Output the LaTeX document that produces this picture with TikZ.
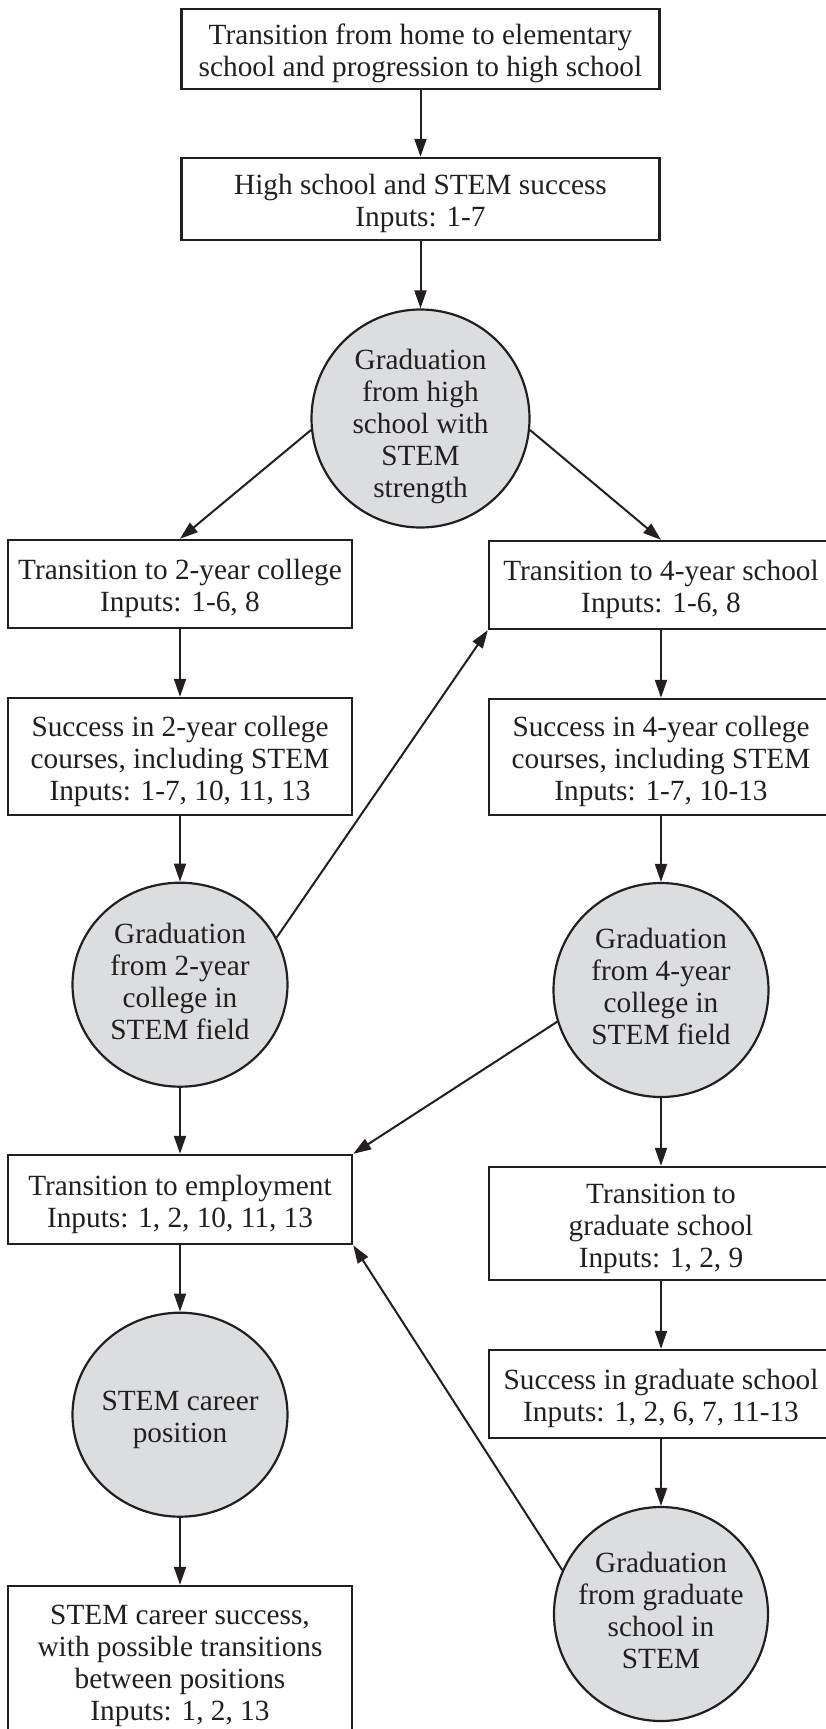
\documentclass[tikz,border=0pt]{standalone}
\usepackage{fontspec}
\setmainfont{Liberation Serif}
\usetikzlibrary{shapes.geometric,arrows.meta}
\definecolor{circfill}{RGB}{220,221,223}
\definecolor{ink}{RGB}{35,31,32}
\newcommand\diagfont{\fontsize{29.3}{32}\selectfont}
\newcommand\lowtxt[2]{\raisebox{-#1}[\height][\depth]{\begin{tabular}{@{}c@{}}#2\end{tabular}}}
\begin{document}
\begin{tikzpicture}[x=1pt,y=-1pt,
  boxn/.style={draw=ink, line width=2.4pt, rectangle, align=center, font=\diagfont, text=ink, inner sep=0pt},
  circn/.style={draw=ink, line width=2.2pt, ellipse, fill=circfill, align=center, font=\diagfont, text=ink, inner sep=-10pt},
  arr/.style={draw=ink, line width=2pt, -{Triangle[length=18pt,width=12pt]}}]
\path[fill=white, use as bounding box] (0,0) rectangle (825,1729);
% top column
\node[boxn, minimum width=478pt, minimum height=80pt] (b1) at (420.5,49) {\lowtxt{5.5pt}{Transition from home to elementary\\school and progression to high school}};
\node[boxn, minimum width=478pt, minimum height=82pt] (b2) at (420.5,199) {\lowtxt{5.5pt}{High school and STEM success\\Inputs: 1-7}};
\node[circn, minimum width=218pt, minimum height=218pt] (c1) at (420.5,418.5) {\lowtxt{9pt}{Graduation\\from high\\school with\\STEM\\strength}};
% left column
\node[boxn, minimum width=344pt, minimum height=88pt] (two) at (180,584) {\lowtxt{5.5pt}{Transition to 2-year college\\Inputs: 1-6, 8}};
\node[boxn, minimum width=344pt, minimum height=117pt] (s2) at (180,756.5) {\lowtxt{5.5pt}{Success in 2-year college\\courses, including STEM\\Inputs: 1-7, 10, 11, 13}};
\node[circn, minimum width=215pt, minimum height=204pt] (c2) at (180,984.7) {\lowtxt{0pt}{Graduation\\from 2-year\\college in\\STEM field}};
\node[boxn, minimum width=344pt, minimum height=89pt] (emp) at (180,1199.5) {\lowtxt{5.5pt}{Transition to employment\\Inputs: 1, 2, 10, 11, 13}};
\node[circn, minimum width=215pt, minimum height=204pt] (car) at (180,1414.7) {\lowtxt{5.5pt}{STEM career\\position}};
\node[boxn, minimum width=344pt, minimum height=152pt] (cs) at (180,1662) {\lowtxt{4.5pt}{STEM career success,\\with possible transitions\\between positions\\Inputs: 1, 2, 13}};
% right column
\node[boxn, minimum width=344pt, minimum height=88pt] (four) at (661,585) {\lowtxt{5.5pt}{Transition to 4-year school\\Inputs: 1-6, 8}};
\node[boxn, minimum width=344pt, minimum height=116pt] (s4) at (661,757) {\lowtxt{5.5pt}{Success in 4-year college\\courses, including STEM\\Inputs: 1-7, 10-13}};
\node[circn, minimum width=215pt, minimum height=214pt] (c4) at (661,990) {\lowtxt{0pt}{Graduation\\from 4-year\\college in\\STEM field}};
\node[boxn, minimum width=344pt, minimum height=113pt] (gt) at (661,1223.5) {\lowtxt{6pt}{Transition to\\graduate school\\Inputs: 1, 2, 9}};
\node[boxn, minimum width=344pt, minimum height=88pt] (sg) at (661,1394) {\lowtxt{5.5pt}{Success in graduate school\\Inputs: 1, 2, 6, 7, 11-13}};
\node[circn, minimum width=214pt, minimum height=214pt] (gc) at (661,1614) {\lowtxt{0pt}{Graduation\\from graduate\\school in\\STEM}};
% vertical connectors
\draw[arr] (b1.south) -- (b2.north);
\draw[arr] (b2.south) -- (c1.north);
\draw[arr] (two.south) -- (s2.north);
\draw[arr] (s2.south) -- (c2.north);
\draw[arr] (c2.south) -- (emp.north);
\draw[arr] (emp.south) -- (car.north);
\draw[arr] (car.south) -- (cs.north);
\draw[arr] (four.south) -- (s4.north);
\draw[arr] (s4.south) -- (c4.north);
\draw[arr] (c4.south) -- (gt.north);
\draw[arr] (gt.south) -- (sg.north);
\draw[arr] (sg.south) -- (gc.north);
% diagonal connectors
\draw[arr] (c1.186) -- (two.north);
\draw[arr] (c1.-6) -- (four.north);
\draw[arr] (c2.26) -- (four.south west);
\draw[arr] (c4.197) -- (emp.north east);
\draw[arr] (gc.156) -- (emp.south east);
\end{tikzpicture}
\end{document}
